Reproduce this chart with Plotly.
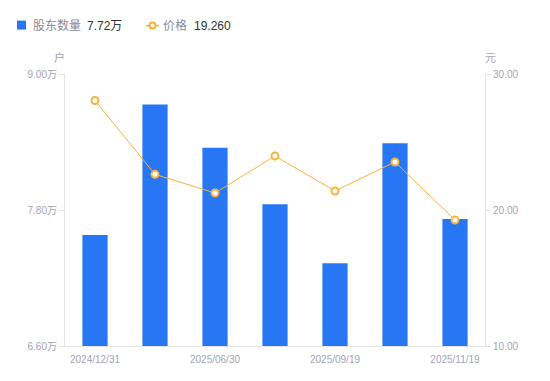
import plotly.graph_objects as go

dates = ["2024/12/31", "2025/03/31", "2025/06/30", "2025/08/31", "2025/09/19", "2025/10/31", "2025/11/19"]
holders = [7.58, 8.73, 8.35, 7.85, 7.33, 8.39, 7.72]  # 万户
prices = [28.05, 22.62, 21.25, 23.97, 21.40, 23.53, 19.26]
left_ticks = [6.60, 7.80, 9.00]
right_ticks = [10.0, 20.0, 30.0]
x_label_dates = ["2024/12/31", "2025/06/30", "2025/09/19", "2025/11/19"]

BLUE = "#2777f4"
ORANGE = "#f6b23a"
GRAY = "#a3a3b3"
DARK = "#333333"
AXIS = "#e3e3e8"
FONT = "Liberation Sans, Noto Sans CJK SC, sans-serif"

fig = go.Figure()
fig.add_trace(go.Bar(x=dates, y=holders, marker=dict(color=BLUE, line=dict(width=0)),
                     width=0.42, name="股东数量", showlegend=False))
fig.add_trace(go.Scatter(x=dates, y=prices, yaxis="y2", mode="lines+markers",
                         line=dict(color=ORANGE, width=1),
                         marker=dict(symbol="circle", size=7, color="white",
                                     line=dict(color=ORANGE, width=2)),
                         name="价格", showlegend=False))

# page body has an 8px margin; target page coordinates of the plot area
OFF = 8
L, R, T, B = 65, 485, 73.5, 346
W, H = 550 - OFF, 381 - OFF
def px(x):
    return (x - L) / (R - L)
def py(y):
    return (B - y) / (B - T)

shapes = [
    dict(type="rect", xref="paper", yref="paper", x0=px(17), x1=px(26), y0=py(29), y1=py(20),
         fillcolor=BLUE, line=dict(width=0)),
    dict(type="line", xref="paper", yref="paper", x0=px(146), x1=px(159), y0=py(25), y1=py(25),
         line=dict(color=ORANGE, width=1.5)),
    dict(type="circle", xref="paper", yref="paper", x0=px(149.5), x1=px(155.5), y0=py(28), y1=py(22),
         fillcolor="white", line=dict(color=ORANGE, width=2)),
]

annotations = [
    dict(text="股东数量", x=px(31), y=py(25), xref="paper", yref="paper", xanchor="left", yanchor="middle",
         showarrow=False, font=dict(size=12, color="#8a8a9a", family=FONT)),
    dict(text="7.72万", x=px(85), y=py(25), xref="paper", yref="paper", xanchor="left", yanchor="middle",
         showarrow=False, font=dict(size=12, color=DARK, family=FONT)),
    dict(text="价格", x=px(161), y=py(25), xref="paper", yref="paper", xanchor="left", yanchor="middle",
         showarrow=False, font=dict(size=12, color="#8a8a9a", family=FONT)),
    dict(text="19.260", x=px(192), y=py(25), xref="paper", yref="paper", xanchor="left", yanchor="middle",
         showarrow=False, font=dict(size=12, color=DARK, family=FONT)),
    dict(text="户", x=px(59), y=py(57), xref="paper", yref="paper", xanchor="center", yanchor="middle",
         showarrow=False, font=dict(size=11, color=GRAY, family=FONT)),
    dict(text="元", x=px(490), y=py(57), xref="paper", yref="paper", xanchor="center", yanchor="middle",
         showarrow=False, font=dict(size=11, color=GRAY, family=FONT)),
]

fig.update_layout(
    width=W, height=H,
    margin=dict(l=L - OFF, r=550 - R, t=T - OFF, b=381 - B, pad=0),
    paper_bgcolor="white", plot_bgcolor="white",
    font=dict(family=FONT, size=10, color=GRAY),
    showlegend=False,
    shapes=shapes,
    annotations=annotations,
    xaxis=dict(type="category", categoryorder="array", categoryarray=dates,
               range=[-0.5, len(dates) - 0.5],
               tickmode="array", tickvals=x_label_dates, ticktext=x_label_dates,
               showline=True, linecolor=AXIS, linewidth=1, ticks="", showgrid=False,
               ticklabelstandoff=4,
               zeroline=False, tickfont=dict(size=10, color=GRAY)),
    yaxis=dict(range=[left_ticks[0], left_ticks[-1]], tickmode="array", tickvals=left_ticks,
               ticktext=[f"{v:.2f}万" for v in left_ticks],
               showline=True, linecolor=AXIS, linewidth=1, ticks="outside", ticklen=5,
               tickcolor=AXIS, showgrid=False, zeroline=False,
               tickfont=dict(size=10, color=GRAY)),
    yaxis2=dict(range=[right_ticks[0], right_ticks[-1]], overlaying="y", side="right",
                tickmode="array", tickvals=right_ticks,
                ticktext=[f"{v:.2f}" for v in right_ticks],
                showline=True, linecolor=AXIS, linewidth=1, ticks="outside", ticklen=5,
                tickcolor=AXIS, showgrid=False, zeroline=False,
                tickfont=dict(size=10, color=GRAY)),
)

fig.write_html("out.html")
